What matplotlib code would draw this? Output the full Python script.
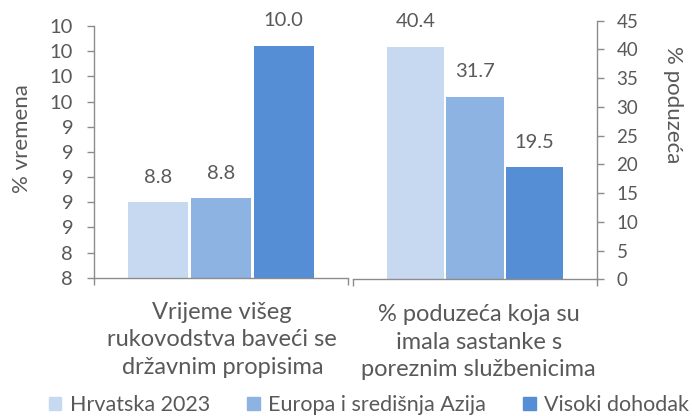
import matplotlib
matplotlib.use('Agg')
import matplotlib.pyplot as plt
from matplotlib.ticker import FuncFormatter, MultipleLocator
import numpy as np

plt.rcParams['font.family'] = ['Lato', 'DejaVu Sans']

# podaci
series = ['Hrvatska 2023', 'Europa i središnja Azija', 'Visoki dohodak']
colors = ['#C6D9F1', '#8DB3E2', '#558ED5']
vrijeme = [8.80, 8.83, 10.04]        # lijeva os
poduzeca = [40.4, 31.7, 19.5]       # desna os
vrijeme_labels = ['8.8', '8.8', '10.0']
poduzeca_labels = ['40.4', '31.7', '19.5']
categories = ['Vrijeme višeg\nrukovodstva baveći se\ndržavnim propisima',
              '% poduzeća koja su\nimala sastanke s\nporeznim službenicima']

txt = '#595959'
spine = '#8C8C8C'
W, H = 692, 416

fig = plt.figure(figsize=(W / 100, H / 100), dpi=100)

# lijevi dio
ax1 = fig.add_axes([94 / W, (H - 277.7) / H, 254 / W, (277.7 - 26) / H])
x = np.arange(3) - 1
bars1 = ax1.bar(x, vrijeme, width=0.96, color=colors)
ax1.set_ylim(8.2, 10.2)
ax1.set_xlim(-2.03, 2.03)
ax1.yaxis.set_major_locator(MultipleLocator(0.2))
ax1.yaxis.set_major_formatter(FuncFormatter(lambda v, p: '{:.0f}'.format(v)))
ax1.set_xticks([-2.03, 2.03])
ax1.set_xticklabels([])
for b, lab in zip(bars1, vrijeme_labels):
    ax1.annotate(lab, (b.get_x() + b.get_width() / 2, b.get_height()),
                 xytext=(0, 12), textcoords='offset points',
                 ha='center', va='bottom', fontsize=14.5, color=txt)

# desni dio
ax2 = fig.add_axes([353 / W, (H - 279.3) / H, 244 / W, (279.3 - 20.7) / H])
bars2 = ax2.bar(x, poduzeca, width=0.96, color=colors)
ax2.set_ylim(0, 45)
ax2.set_xlim(-2.045, 2.045)
ax2.yaxis.set_major_locator(MultipleLocator(5))
ax2.yaxis.tick_right()
ax2.set_xticks([-2.045, 2.045])
ax2.set_xticklabels([])
for b, lab in zip(bars2, poduzeca_labels):
    ax2.annotate(lab, (b.get_x() + b.get_width() / 2, b.get_height()),
                 xytext=(0, 12), textcoords='offset points',
                 ha='center', va='bottom', fontsize=14.5, color=txt)

for ax, side, pad, ls in [(ax1, 'left', 10, 14.5), (ax2, 'right', 9, 13.5)]:
    for s in ['top', 'left', 'right', 'bottom']:
        ax.spines[s].set_visible(s in (side, 'bottom'))
        ax.spines[s].set_color(spine)
        ax.spines[s].set_linewidth(1.0)
    ax.set_facecolor('none')
    ax.tick_params(axis='y', colors=spine, labelcolor=txt, length=5, width=1,
                   labelsize=ls, pad=pad)
    ax.tick_params(axis='x', colors=spine, length=5, width=1)

ax1.text(0.505, -0.095, categories[0], transform=ax1.transAxes, ha='center', va='top',
         fontsize=17, color=txt, linespacing=1.4)
ax2.text(0.515, -0.095, categories[1], transform=ax2.transAxes, ha='center', va='top',
         fontsize=17, color=txt, linespacing=1.4)

fig.text(22 / W, 1 - 139 / H, '% vremena', rotation=90, ha='center', va='center',
         fontsize=16, color=txt)
fig.text(673 / W, 1 - 105 / H, '% poduzeća', rotation=-90, ha='center', va='center',
         fontsize=16, color=txt)

# legenda
handles = [plt.Rectangle((0, 0), 1, 1, color=c) for c in colors]
fig.legend(handles, series, loc='center', bbox_to_anchor=(369 / W, 1 - 405 / H),
           ncol=3, frameon=False, fontsize=15.5, labelcolor=txt,
           handlelength=0.6, handleheight=0.6, handletextpad=0.4, columnspacing=1.7,
           borderpad=0, borderaxespad=0)

fig.savefig('out.png', dpi=100)
